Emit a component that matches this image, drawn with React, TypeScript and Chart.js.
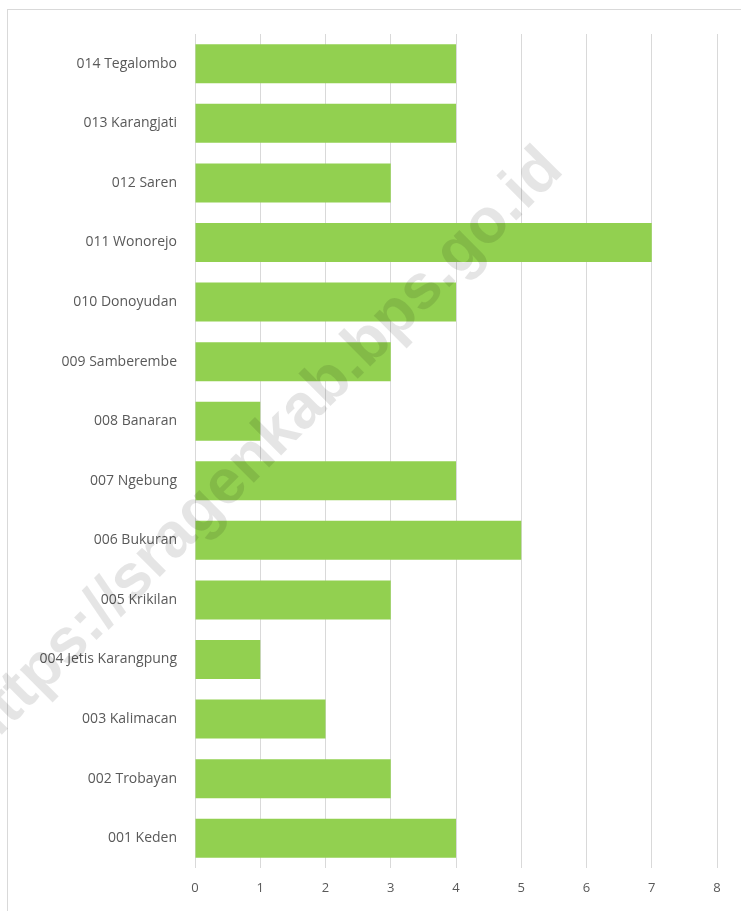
import React, { useEffect, useRef } from "react";
import { Chart, registerables } from "chart.js";

Chart.register(...registerables);

const categories = [
  "001 Keden",
  "002 Trobayan",
  "003 Kalimacan",
  "004 Jetis Karangpung",
  "005 Krikilan",
  "006 Bukuran",
  "007 Ngebung",
  "008 Banaran",
  "009 Samberembe",
  "010 Donoyudan",
  "011 Wonorejo",
  "012 Saren",
  "013 Karangjati",
  "014 Tegalombo",
];
const values = [4, 3, 2, 1, 3, 5, 4, 1, 3, 4, 7, 3, 4, 4];
const xTicks = [0, 1, 2, 3, 4, 5, 6, 7, 8];
const watermark = "https://sragenkab.bps.go.id";

const framePlugin = {
  id: "frame",
  beforeDraw(chart: any) {
    const ctx = chart.ctx;
    ctx.save();
    ctx.fillStyle = "#ffffff";
    ctx.fillRect(0, 0, chart.width, chart.height);
    ctx.strokeStyle = "#d9d9d9";
    ctx.lineWidth = 1;
    ctx.strokeRect(7.5, 9.5, chart.width + 20, chart.height + 20);
    ctx.restore();
  },
  afterDraw(chart: any) {
    const ctx = chart.ctx;
    ctx.save();
    ctx.translate(262, 450);
    ctx.rotate(-Math.PI / 4);
    ctx.font = "bold 63px 'Liberation Sans', Arial, sans-serif";
    ctx.fillStyle = "rgba(0,0,0,0.1)";
    ctx.textAlign = "center";
    ctx.textBaseline = "middle";
    ctx.fillText(watermark, 0, 0);
    ctx.restore();
  },
};

export default function App() {
  const ref = useRef<HTMLCanvasElement>(null);
  useEffect(() => {
    if (!ref.current) return;
    const chart = new Chart(ref.current, {
      type: "bar",
      data: {
        labels: categories,
        datasets: [
          {
            data: values,
            backgroundColor: "#92d050",
            borderWidth: 0,
            categoryPercentage: 1,
            barPercentage: 0.655,
          },
        ],
      },
      options: {
        indexAxis: "y",
        animation: false,
        responsive: false,
        maintainAspectRatio: false,
        layout: { padding: { top: 34, right: 24, bottom: 0, left: 0 } },
        plugins: { legend: { display: false }, tooltip: { enabled: false } },
        scales: {
          x: {
            min: 0,
            max: 8,
            afterBuildTicks: (scale: any) => {
              scale.ticks = xTicks.map((v) => ({ value: v }));
            },
            afterFit: (scale: any) => {
              scale.height = 43;
            },
            grid: { color: "#d9d9d9", drawTicks: false, lineWidth: 1 },
            border: { display: false },
            ticks: {
              padding: 12,
              color: "#595959",
              font: { family: "'Open Sans', sans-serif", size: 13 },
            },
          },
          y: {
            reverse: true,
            afterFit: (scale: any) => {
              scale.width = 195;
            },
            grid: { display: false, drawTicks: false },
            border: { display: false },
            ticks: {
              padding: 18,
              color: "#595959",
              font: { family: "'Open Sans', sans-serif", size: 14 },
            },
          },
        },
      },
      plugins: [framePlugin],
    });
    return () => chart.destroy();
  }, []);
  return (
    <div style={{ position: "fixed", left: 0, top: 0, width: 741, height: 911, background: "#fff" }}>
      <canvas ref={ref} width={741} height={911} style={{ width: 741, height: 911 }} />
    </div>
  );
}
